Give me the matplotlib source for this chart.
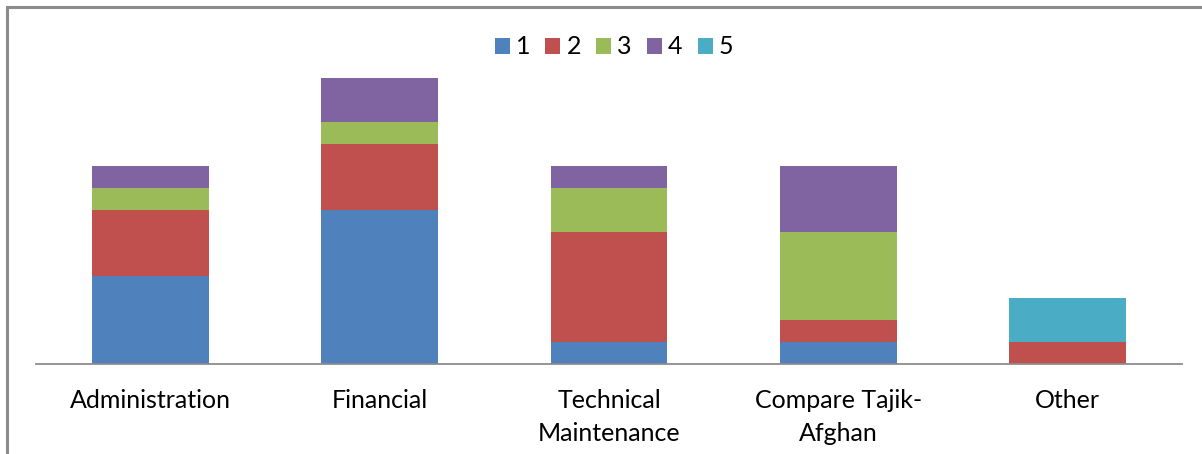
import numpy as np
import matplotlib.pyplot as plt
from matplotlib.patches import Rectangle

plt.rcParams['font.family'] = ['Lato', 'DejaVu Sans']

categories = ['Administration', 'Financial', 'Technical\nMaintenance',
              'Compare Tajik-\nAfghan', 'Other']
series_names = ['1', '2', '3', '4', '5']
s1 = [4, 7, 1, 1, 0]
s2 = [3, 3, 5, 1, 1]
s3 = [1, 1, 2, 4, 0]
s4 = [1, 2, 1, 3, 0]
s5 = [0, 0, 0, 0, 2]
colors = ['#4F81BD', '#C0504D', '#9BBB59', '#8064A2', '#4BACC6']

fig = plt.figure(figsize=(12.02, 4.54), dpi=100)
W, H = 1202, 454

# outer chart border
fig.patches.append(Rectangle((7 / W, -0.1), 1.2, 1 - 7 / H + 0.1,
                             transform=fig.transFigure, fill=False,
                             edgecolor='#8c8c8c', linewidth=2.2))

ax = fig.add_axes([36 / W, 1 - 364 / H, (1182 - 36) / W, 308 / H])
x = np.arange(len(categories))
bottom = np.zeros(len(categories))
handles = []
for name, vals, c in zip(series_names, [s1, s2, s3, s4, s5], colors):
    vals = np.array(vals, dtype=float)
    b = ax.bar(x, vals, 0.51, bottom=bottom, color=c, label=name, linewidth=0)
    handles.append(b)
    bottom += vals

ax.set_xlim(-0.5, len(categories) - 0.5)
ax.set_ylim(0, 14)
for s in ['top', 'right', 'left']:
    ax.spines[s].set_visible(False)
ax.spines['bottom'].set_color('#8c8c8c')
ax.spines['bottom'].set_linewidth(1.3)
ax.set_yticks([])
ax.set_xticks(x)
ax.set_xticklabels(categories, fontsize=18, linespacing=1.55)
ax.tick_params(axis='x', length=0, pad=18)

fig.legend(handles=handles, labels=series_names, loc='center',
           bbox_to_anchor=(614 / W, 1 - 47 / H), ncol=5, frameon=False,
           fontsize=18, handlelength=0.6, handleheight=0.6,
           handletextpad=0.25, columnspacing=0.6)

fig.savefig('out.png', dpi=100)
